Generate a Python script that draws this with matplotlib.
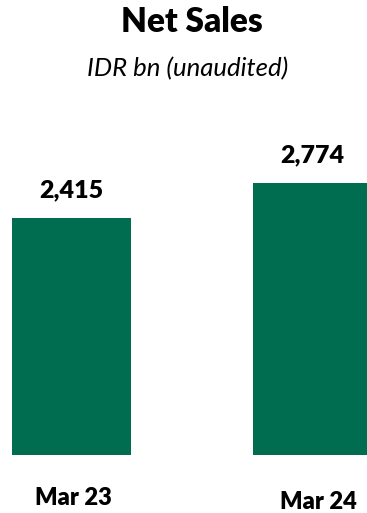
import matplotlib
matplotlib.use("Agg")
import matplotlib.pyplot as plt

categories = ["Mar 23", "Mar 24"]
net_sales = [2415, 2774]
value_labels = ["2,415", "2,774"]
title = "Net Sales"
subtitle = "IDR bn (unaudited)"

plt.rcParams["font.family"] = ["Lato", "DejaVu Sans"]

W, H = 367, 513
fig = plt.figure(figsize=(W / 100, H / 100), dpi=100)

# axes spans the full width; baseline sits ~58 px above the bottom edge
base_px = 57.7
top_px = 100
ax = fig.add_axes([0, base_px / H, 1, (H - top_px - base_px) / H])
px_per_unit = 0.09827
ax.set_ylim(0, (H - top_px - base_px) / px_per_unit)
spacing = 241.3
c0 = 71.2
ax.set_xlim(-c0 / spacing, (W - c0) / spacing)

green = "#006C50"
x = list(range(len(categories)))
bars = ax.bar(x, net_sales, width=119 / spacing, color=green)

for xi, v, lab in zip(x, net_sales, value_labels):
    ax.annotate(lab, (xi, v), xytext=(0, 20), textcoords="offset points",
                ha="center", va="center", fontsize=18, fontweight="heavy",
                color="black")

label_dy = [-42.7, -46.5]
label_dx = [2.5, 5.5]
for xi, cat, dy, dx in zip(x, categories, label_dy, label_dx):
    ax.annotate(cat, (xi, 0), xytext=(dx * 0.72, dy * 0.72), textcoords="offset points",
                ha="center", va="center", fontsize=17, fontweight="heavy",
                color="black", annotation_clip=False)

ax.axis("off")

fig.text(192 / W, 1 - 22 / H, title, ha="center", va="center",
         fontsize=24, fontweight="heavy", color="black")
fig.text(188 / W, 1 - 69 / H, subtitle, ha="center", va="center",
         fontsize=18.5, style="italic", color="black")

fig.savefig("out.png", dpi=100)
